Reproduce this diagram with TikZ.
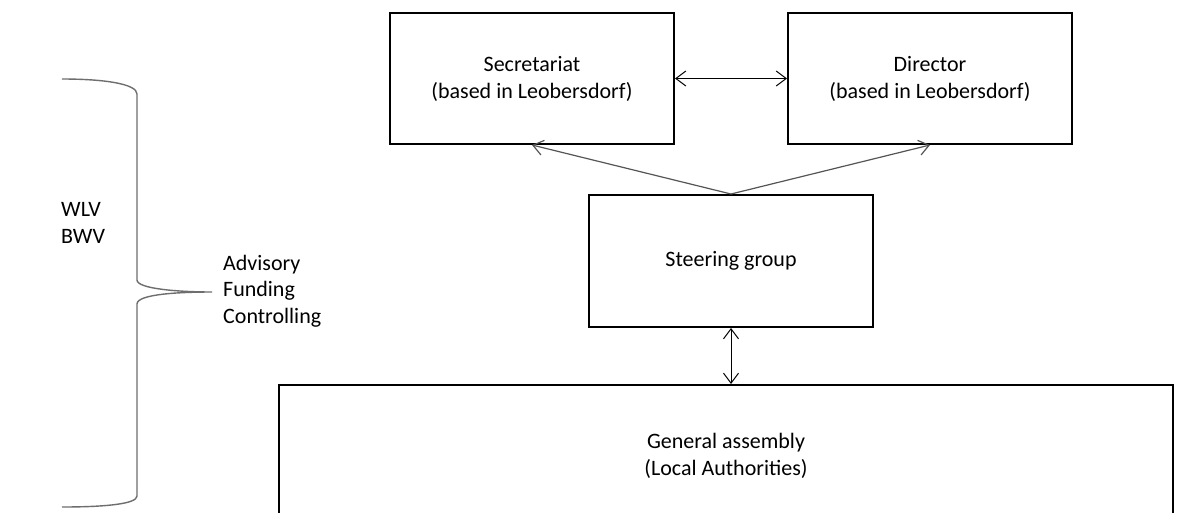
\documentclass[tikz,border=0pt]{standalone}
\usepackage{fontspec}
\setmainfont{Carlito}
\usetikzlibrary{arrows.meta,calc}
\begin{document}
\begin{tikzpicture}[x=1pt,y=-1pt,
  boxnode/.style={draw=black,line width=2pt,rectangle,inner sep=0pt,align=center,
    font=\fontsize{22}{27}\selectfont},
  txt/.style={inner sep=0pt,align=left,anchor=west,font=\fontsize{22}{26.5}\selectfont},
  grayarrow/.style={draw={rgb,255:red,85;green,85;blue,85},line width=1.2pt,
    {Straight Barb[length=10pt,width=15pt]}-{Straight Barb[length=10pt,width=15pt]}},
  blkarrow/.style={draw=black,line width=1pt,
    {Straight Barb[length=10pt,width=15pt]}-{Straight Barb[length=10pt,width=15pt]}},
  bracestyle/.style={draw={rgb,255:red,110;green,110;blue,110},line width=1.4pt}]
\useasboundingbox (0,0) rectangle (1179,512);
\fill[white] (0,0) rectangle (1179,512);

\node[boxnode,minimum width=284pt,minimum height=131pt] (sec) at (532,78.5)
  {Secretariat\\(based in Leobersdorf)};
\node[boxnode,minimum width=284pt,minimum height=131pt] (dir) at (930,78.5)
  {Director\\(based in Leobersdorf)};
\node[boxnode,minimum width=284pt,minimum height=132pt] (steer) at (731,261)
  {Steering group};
\node[boxnode,minimum width=894pt,minimum height=200pt] (ga) at (726,485) {};
\node[inner sep=0pt,align=center,font=\fontsize{22}{27}\selectfont] (galabel) at (726,456)
  {General assembly\\(Local Authorities)};

\draw[blkarrow] (sec.east) -- (dir.west);
\draw[grayarrow] (sec.south) -- (steer.north) -- (dir.south);
\draw[blkarrow] (steer.south) -- (steer.south |- ga.north);

\node[txt] (wlv) at (61,223) {WLV\\BWV};
\node[txt] (adv) at (223,291) {Advisory\\Funding\\Controlling};

\draw[bracestyle] (62,79) .. controls (105,79) and (137,84) .. (137,94) -- (137,280)
  .. controls (137,289) and (180,292) .. (212,292)
  .. controls (180,292) and (137,294) .. (137,304) -- (137,496)
  .. controls (137,504) and (105,507) .. (62,507);
\end{tikzpicture}
\end{document}
